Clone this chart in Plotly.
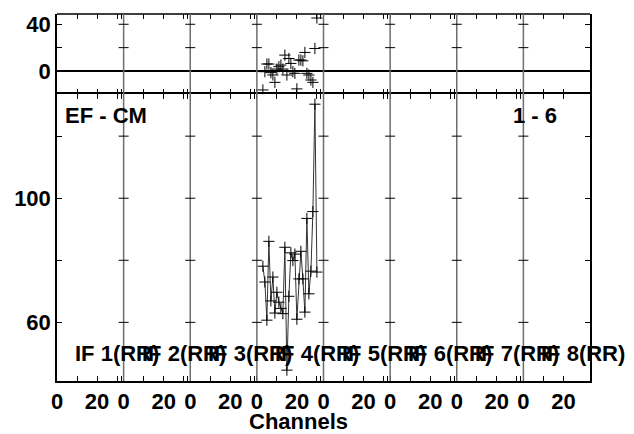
import plotly.graph_objects as go

# ---- data ----
if_labels = ["IF 1(RR)", "IF 2(RR)", "IF 3(RR)", "IF 4(RR)", "IF 5(RR)", "IF 6(RR)", "IF 7(RR)", "IF 8(RR)"]
data_if = 3  # IF 4 (0-based)
channels = [3, 4, 5, 6, 7, 8, 9, 10, 11, 12, 13, 14, 15, 16, 17, 18, 19, 20, 21, 22, 23, 24, 25, 26, 27, 28, 29, 30]
amplitude = [78.1, 73.0, 60.7, 86.1, 66.9, 74.6, 63.0, 69.7, 66.5, 64.5, 62.8, 84.2, 44.6, 68.4,
             82.4, 79.9, 82.0, 61.0, 74.0, 82.9, 74.0, 63.3, 93.5, 69.2, 76.5, 95.7, 130.3, 76.2]
residual = [-16.2, -0.6, 6.0, 6.0, -1.4, -3.4, -9.7, 1.7, 3.7, 5.1, 1.7, 13.6, -3.4, 10.7,
            6.5, -0.6, -2.0, -15.3, 9.4, 9.4, 8.7, 15.9, -2.0, -3.4, -7.7, -9.7, 19.3, 45.4]
x_ticks_per_if = [0, 10, 20, 30, 32]
x_tick_text_per_if = ["0", "", "20", "", ""]
amp_ticks = [60, 80, 100, 120]
amp_tick_text = ["60", "", "100", ""]
res_ticks = [0, 20, 40]
res_tick_text = ["0", "", "40"]

W = 33.3  # channels per IF panel on the shared axis
n_if = len(if_labels)

BFONT = dict(family="Liberation Sans, Arial, sans-serif", size=22, color="black", weight="bold")

xs = [data_if * W + c for c in channels]

fig = go.Figure()
fig.add_trace(go.Scatter(x=xs, y=amplitude, mode="lines+markers", xaxis="x", yaxis="y",
                         line=dict(color="#333", width=1),
                         marker=dict(symbol="cross-thin-open", size=8, color="black",
                                     line=dict(color="black", width=1)),
                         showlegend=False))
fig.add_trace(go.Scatter(x=xs, y=residual, mode="markers", xaxis="x2", yaxis="y2",
                         marker=dict(symbol="cross-thin-open", size=8, color="black",
                                     line=dict(color="black", width=1)),
                         showlegend=False))

tickvals, ticktext = [], []
for k in range(n_if):
    for v, t in zip(x_ticks_per_if, x_tick_text_per_if):
        if k == n_if - 1 and v > 20:
            continue
        tickvals.append(k * W + v)
        ticktext.append(t)

split = 0.7813
axis_common = dict(linecolor="black", linewidth=1.5, ticks="inside", ticklen=5,
                   tickcolor="black", tickwidth=1, showgrid=False, tickfont=BFONT, mirror="ticks")

fig.update_layout(
    width=634, height=434,
    margin=dict(l=57, r=44, t=12, b=53),
    paper_bgcolor="white", plot_bgcolor="white",
    xaxis=dict(domain=[0, 1], anchor="y", range=[0, n_if * W], tickvals=tickvals, ticktext=ticktext,
               zeroline=False, showline=True, **axis_common),
    xaxis2=dict(domain=[0, 1], anchor="y2", range=[0, n_if * W], tickvals=tickvals, ticktext=ticktext,
                matches="x", showticklabels=False, zeroline=False, showline=False, **axis_common),
    yaxis=dict(domain=[0, split], anchor="x", range=[41.1, 133.5], tickvals=amp_ticks, ticktext=amp_tick_text,
               zeroline=False, showline=True, **axis_common),
    yaxis2=dict(domain=[split, 1], anchor="x2", range=[-19.9, 48.8], tickvals=res_ticks, ticktext=res_tick_text,
                zeroline=True, zerolinecolor="black", zerolinewidth=1.5, showline=True, **axis_common),
    showlegend=False,
)

shapes = [dict(type="line", xref="paper", yref="paper", x0=0, x1=1, y0=1, y1=1,
               line=dict(color="black", width=1.5))]
for k in range(1, n_if):
    bx = k * W
    shapes.append(dict(type="line", xref="x", yref="paper", x0=bx, x1=bx, y0=0, y1=1,
                       line=dict(color="#6e6e6e", width=1.5)))
    for v in amp_ticks:
        shapes.append(dict(type="line", xref="x", yref="y", x0=bx - 2.5, x1=bx + 2.5, y0=v, y1=v,
                           line=dict(color="black", width=1)))
    for v in res_ticks[1:]:
        shapes.append(dict(type="line", xref="x2", yref="y2", x0=bx - 2.5, x1=bx + 2.5, y0=v, y1=v,
                           line=dict(color="black", width=1)))
fig.update_layout(shapes=shapes)

ann = []
for k, lab in enumerate(if_labels):
    ann.append(dict(x=k * W + 8, y=50, xref="x", yref="y", text=lab, showarrow=False,
                    xanchor="left", yanchor="middle", font=BFONT))
ann.append(dict(x=3, y=126.5, xref="x", yref="y", text="EF - CM", showarrow=False,
                xanchor="left", yanchor="middle", font=BFONT))
ann.append(dict(x=n_if * W - 15.5, y=126.5, xref="x", yref="y", text="1 - 6", showarrow=False,
                xanchor="right", yanchor="middle", font=BFONT))
ann.append(dict(x=120.75, y=-0.11, xref="x", yref="paper", text="Channels", showarrow=False,
                xanchor="center", yanchor="middle", font=BFONT))
fig.update_layout(annotations=ann)

fig.write_html("out.html", config={"displayModeBar": False},
               post_script="document.body.style.margin='0';")
